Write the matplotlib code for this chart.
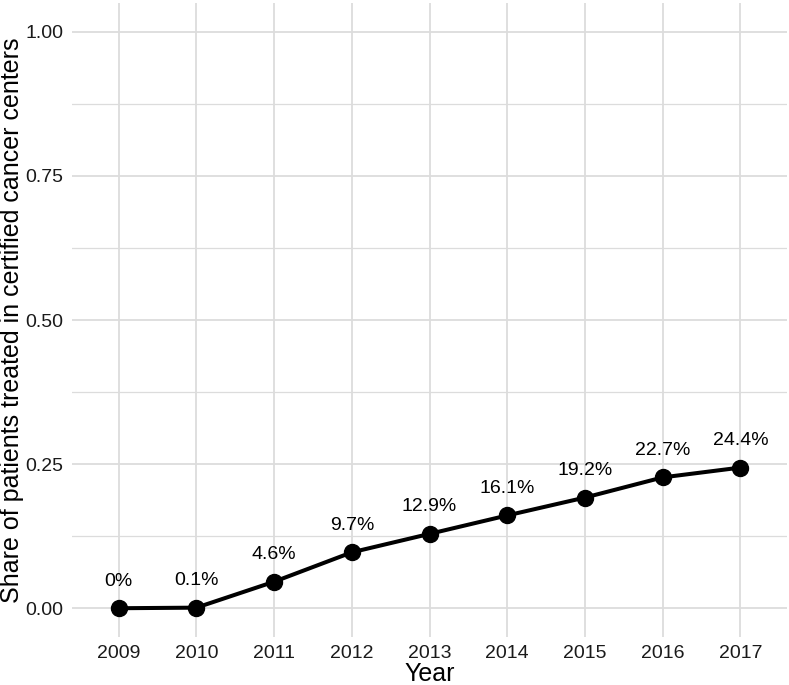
import numpy as np
import matplotlib
matplotlib.use("Agg")
import matplotlib.pyplot as plt

plt.rcParams['font.family'] = ['Liberation Sans', 'DejaVu Sans']

# data
years = [2009, 2010, 2011, 2012, 2013, 2014, 2015, 2016, 2017]
share = [0.0, 0.001, 0.046, 0.097, 0.129, 0.161, 0.192, 0.227, 0.244]
labels = ["0%", "0.1%", "4.6%", "9.7%", "12.9%", "16.1%", "19.2%", "22.7%", "24.4%"]
yticks = [0.0, 0.25, 0.5, 0.75, 1.0]

fig = plt.figure(figsize=(7.89, 6.85), dpi=100)
ax = fig.add_axes([0.0913, 0.070, 0.9062, 0.9256])

grid_col = "#dcdcdc"
for y in yticks:
    ax.axhline(y, color=grid_col, lw=1.3, zorder=0)
for y in [0.125, 0.375, 0.625, 0.875]:
    ax.axhline(y, color=grid_col, lw=0.9, zorder=0)
for x in years:
    ax.axvline(x, color=grid_col, lw=1.3, zorder=0)

ax.plot(years, share, color="black", lw=2.9, marker="o", markersize=11.5, zorder=3)
for x, y, t in zip(years, share, labels):
    ax.annotate(t, (x, y), xytext=(0, 19.5), textcoords="offset points",
                ha="center", va="center", fontsize=14, color="black")

ax.set_xlim(2008.4, 2017.6)
ax.set_ylim(-0.05, 1.05)
ax.set_xticks(years)
ax.set_xticklabels([str(y) for y in years])
ax.set_yticks(yticks)
ax.set_yticklabels(["0.00", "0.25", "0.50", "0.75", "1.00"])
ax.tick_params(length=0, labelsize=14, labelcolor="#1a1a1a", pad=6)
for s in ax.spines.values():
    s.set_visible(False)

ax.set_xlabel("Year", fontsize=18, labelpad=0)
ax.set_ylabel("Share of patients treated in certified cancer centers", fontsize=18, labelpad=1)

fig.savefig("out.png", dpi=100)
